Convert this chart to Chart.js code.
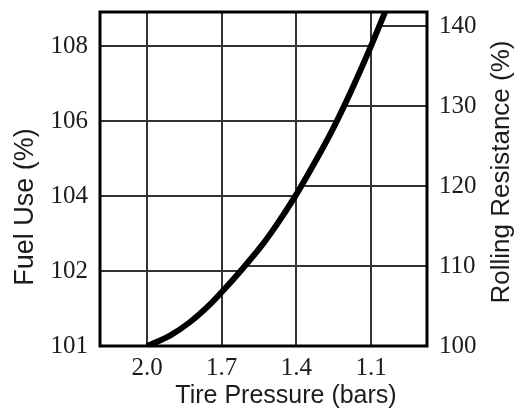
<!DOCTYPE html>
<html>
<head>
<meta charset="utf-8">
<script src="https://cdn.jsdelivr.net/npm/chart.js@4.4.1/dist/chart.umd.min.js"></script>
<style>
  html, body { margin: 0; padding: 0; background: #fff; }
  #wrap { width: 516px; height: 409px; }
</style>
</head>
<body>
<div id="wrap"><canvas id="chart" width="516" height="409"></canvas></div>
<script>
// tick labels
const pressureTicks = [2.0, 1.7, 1.4, 1.1];
const fuelTicks = [101, 102, 104, 106, 108];
const resistanceTicks = [100, 110, 120, 130, 140];

// curve: tire pressure (bars) vs rolling resistance (%)
const curvePressure   = [2.000, 1.908, 1.827, 1.747, 1.695, 1.618, 1.538, 1.478, 1.405, 1.325, 1.257, 1.184, 1.104, 1.040];
const curveResistance = [100.0, 101.3, 103.0, 105.2, 106.9, 109.6, 112.6, 115.2, 118.7, 123.0, 126.9, 131.6, 137.2, 142.0];

const ink = '#1c1c1c';
const gridInk = '#333';

// x position on the drawn curve for a given pixel y
function curveXAt(points, y) {
  for (let i = 0; i < points.length - 1; i++) {
    const a = points[i], b = points[i + 1];
    if ((a.y - y) * (b.y - y) <= 0 && a.y !== b.y) {
      return a.x + (b.x - a.x) * (y - a.y) / (b.y - a.y);
    }
  }
  return null;
}

const partialGrid = {
  id: 'partialGrid',
  beforeDatasetsDraw(chart) {
    const { ctx, chartArea } = chart;
    const pts = chart.getDatasetMeta(0).data;
    const fuel = chart.scales.yFuel;
    const rr = chart.scales.yRR;
    ctx.save();
    ctx.strokeStyle = gridInk;
    ctx.lineWidth = 2;
    // fuel use lines: from left frame to the curve
    fuelTicks.forEach((t, i) => {
      if (i === 0) return;
      const y = fuel.getPixelForValue(i);
      const x = curveXAt(pts, y);
      if (x == null) return;
      ctx.beginPath();
      ctx.moveTo(chartArea.left, y);
      ctx.lineTo(x, y);
      ctx.stroke();
    });
    // rolling resistance lines: from the curve to right frame
    resistanceTicks.forEach((t, i) => {
      if (i === 0) return;
      const y = rr.getPixelForValue(t);
      const x = curveXAt(pts, y);
      if (x == null) return;
      ctx.beginPath();
      ctx.moveTo(x, y);
      ctx.lineTo(chartArea.right, y);
      ctx.stroke();
    });
    ctx.restore();
  },
  afterDraw(chart) {
    const { ctx, chartArea } = chart;
    ctx.save();
    ctx.strokeStyle = '#000';
    ctx.lineWidth = 3;
    ctx.strokeRect(chartArea.left, chartArea.top, chartArea.right - chartArea.left, chartArea.bottom - chartArea.top);

    ctx.fillStyle = ink;
    ctx.textAlign = 'center';
    ctx.textBaseline = 'alphabetic';
    ctx.font = '25px "Liberation Sans", Arial, sans-serif';
    ctx.fillText('Tire Pressure (bars)', 286, 403);

    ctx.font = '27px "Liberation Sans", Arial, sans-serif';
    ctx.save();
    ctx.translate(33, 207);
    ctx.rotate(-Math.PI / 2);
    ctx.fillText('Fuel Use (%)', 0, 0);
    ctx.restore();

    ctx.font = '26px "Liberation Sans", Arial, sans-serif';
    ctx.save();
    ctx.translate(509, 172);
    ctx.rotate(-Math.PI / 2);
    ctx.fillText('Rolling Resistance (%)', 0, 0);
    ctx.restore();
    ctx.restore();
  }
};

const tickFont = { family: '"Liberation Serif", "Times New Roman", serif', size: 25 };

function fixY(width) {
  return s => { s.width = width; s.paddingTop = 0; s.paddingBottom = 0; };
}

new Chart(document.getElementById('chart'), {
  type: 'line',
  data: {
    datasets: [{
      data: curvePressure.map((p, i) => ({ x: p, y: curveResistance[i] })),
      yAxisID: 'yRR',
      borderColor: '#000',
      borderWidth: 6,
      pointRadius: 0,
      cubicInterpolationMode: 'monotone',
      fill: false
    }]
  },
  options: {
    responsive: false,
    animation: false,
    layout: { padding: { top: 12, left: 0, right: 0, bottom: 0 } },
    plugins: { legend: { display: false }, tooltip: { enabled: false } },
    scales: {
      x: {
        type: 'linear',
        reverse: true,
        min: 0.875,
        max: 2.189,
        afterBuildTicks: s => { s.ticks = pressureTicks.map(v => ({ value: v })); },
        afterFit: s => { s.height = 63; s.paddingLeft = 0; s.paddingRight = 0; },
        ticks: { font: tickFont, color: ink, padding: 7, maxRotation: 0, callback: v => Number(v).toFixed(1) },
        grid: { color: gridInk, lineWidth: 2, drawTicks: false },
        border: { display: false }
      },
      yFuel: {
        type: 'linear',
        position: 'left',
        min: 0,
        max: 4.453,
        afterBuildTicks: s => { s.ticks = fuelTicks.map((v, i) => ({ value: i })); },
        afterFit: fixY(100),
        ticks: { font: tickFont, color: ink, padding: 12, callback: v => fuelTicks[v] },
        grid: { display: false, drawTicks: false },
        border: { display: false }
      },
      yRR: {
        type: 'linear',
        position: 'right',
        min: 100,
        max: 141.75,
        afterBuildTicks: s => { s.ticks = resistanceTicks.map(v => ({ value: v })); },
        afterFit: fixY(89),
        ticks: { font: tickFont, color: ink, padding: 12 },
        grid: { display: false, drawTicks: false },
        border: { display: false }
      }
    }
  },
  plugins: [partialGrid]
});
</script>
</body>
</html>
